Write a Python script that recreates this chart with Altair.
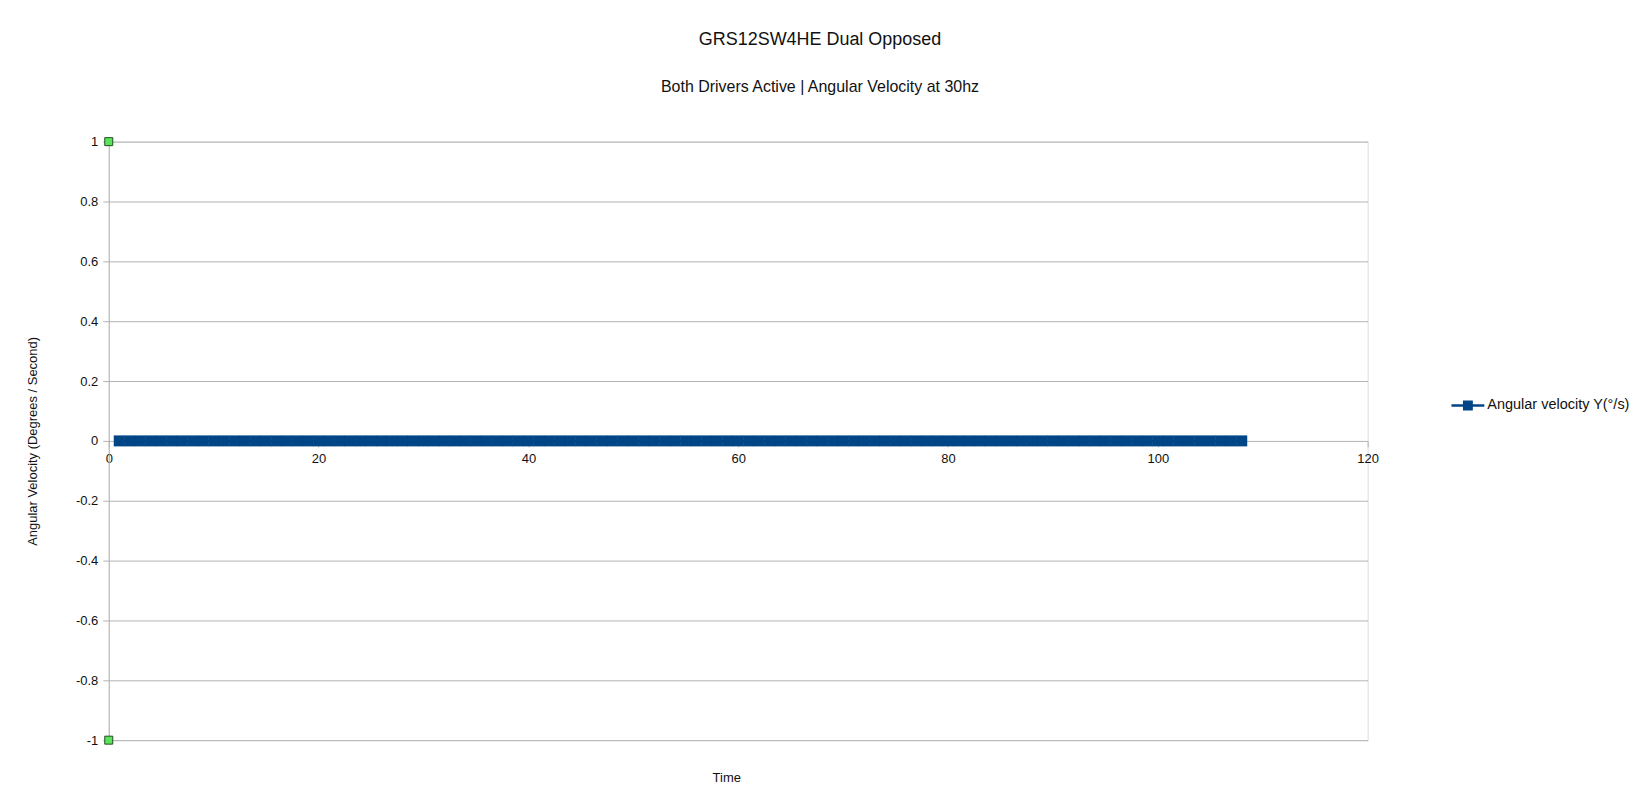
import altair as alt
import pandas as pd

# Time (s) of each plotted sample (read as one dense run from ~1 s to ~108 s)
time_s = [
    1, 2, 3, 4, 5, 6, 7, 8, 9, 10, 11, 12, 13, 14, 15, 16, 17, 18,
    19, 20, 21, 22, 23, 24, 25, 26, 27, 28, 29, 30, 31, 32, 33, 34, 35, 36,
    37, 38, 39, 40, 41, 42, 43, 44, 45, 46, 47, 48, 49, 50, 51, 52, 53, 54,
    55, 56, 57, 58, 59, 60, 61, 62, 63, 64, 65, 66, 67, 68, 69, 70, 71, 72,
    73, 74, 75, 76, 77, 78, 79, 80, 81, 82, 83, 84, 85, 86, 87, 88, 89, 90,
    91, 92, 93, 94, 95, 96, 97, 98, 99, 100, 101, 102, 103, 104, 105, 106, 107, 108,
]
# Angular velocity Y (deg/s): every reading is zero
ang_vel = [
    0, 0, 0, 0, 0, 0, 0, 0, 0, 0, 0, 0, 0, 0, 0, 0, 0, 0,
    0, 0, 0, 0, 0, 0, 0, 0, 0, 0, 0, 0, 0, 0, 0, 0, 0, 0,
    0, 0, 0, 0, 0, 0, 0, 0, 0, 0, 0, 0, 0, 0, 0, 0, 0, 0,
    0, 0, 0, 0, 0, 0, 0, 0, 0, 0, 0, 0, 0, 0, 0, 0, 0, 0,
    0, 0, 0, 0, 0, 0, 0, 0, 0, 0, 0, 0, 0, 0, 0, 0, 0, 0,
    0, 0, 0, 0, 0, 0, 0, 0, 0, 0, 0, 0, 0, 0, 0, 0, 0, 0,
]
series_name = "Angular velocity Y(°/s)"

# green reference markers at the axis ends
ref_time = [0, 0]
ref_val = [1, -1]

x_ticks = [0, 20, 40, 60, 80, 100, 120]
y_ticks = [-1, -0.8, -0.6, -0.4, -0.2, 0, 0.2, 0.4, 0.6, 0.8, 1]

FONT = "Liberation Sans"
GRID = "#b3b3b3"
BLUE = "#004586"
TXT = "#111"

df = pd.DataFrame({"time": time_s, "vel": ang_vel, "series": [series_name] * len(time_s)})
ref = pd.DataFrame({"time": ref_time, "vel": ref_val})

W, H = 1262, 600

x_enc = alt.X(
    "time:Q",
    scale=alt.Scale(domain=[0, 120], nice=False, zero=False),
    axis=alt.Axis(
        values=x_ticks, offset=-H / 2, grid=False, domain=False,
        ticks=True, tickSize=6, tickColor=GRID, labelPadding=6,
        labelFlush=False, labelOverlap=False,
        labelFont=FONT, labelFontSize=13, labelColor=TXT,
        title="Time", titleFont=FONT, titleFontSize=13, titleFontWeight="normal",
        titleColor=TXT, titleX=619, titleY=337, titleBaseline="middle",
        titleAnchor="start", titleAlign="center",
    ),
)
y_enc = alt.Y(
    "vel:Q",
    scale=alt.Scale(domain=[-1, 1], nice=False),
    axis=alt.Axis(
        values=y_ticks, grid=True, gridColor=GRID, domain=True, domainColor=GRID,
        ticks=True, tickSize=6, tickColor=GRID, labelPadding=5,
        labelExpr="'' + datum.value",
        labelFont=FONT, labelFontSize=13, labelColor=TXT,
        title="Angular Velocity (Degrees / Second)", titleFont=FONT,
        titleFontSize=13, titleFontWeight="normal", titleColor=TXT,
        titleX=-76, titleY=H / 2, titleBaseline="middle", titleAngle=-90,
        titleAlign="center",
    ),
)

line = alt.Chart(df).mark_line(color=BLUE, strokeWidth=2).encode(x=x_enc, y=y_enc)

legend_symbol = "M-1,-0.08H1V0.08H-1Z M-0.3,-0.3H0.3V0.3H-0.3Z"
pts = alt.Chart(df).mark_point(shape="square", filled=True, size=121, opacity=1).encode(
    x="time:Q",
    y="vel:Q",
    color=alt.Color(
        "series:N",
        scale=alt.Scale(domain=[series_name], range=[BLUE]),
        legend=alt.Legend(
            title=None, orient="none", legendX=1346, legendY=248,
            symbolType=legend_symbol, symbolSize=1089, symbolStrokeWidth=0,
            labelFont=FONT, labelFontSize=14.5, labelColor=TXT, labelOffset=3,
            padding=0,
        ),
    ),
)

markers = alt.Chart(ref).mark_point(
    shape="square", filled=True, size=64, opacity=1, fill="#5be35b",
    stroke="#1f4f1f", strokeWidth=1,
).encode(x="time:Q", y="vel:Q")

chart = (
    alt.layer(line, pts, markers)
    .properties(
        width=W, height=H,
        autosize=alt.AutoSizeParams(type="none"),
        padding={"left": 101, "top": 133, "right": 262, "bottom": 50},
        title=alt.Title(
            "GRS12SW4HE Dual Opposed",
            subtitle="Both Drivers Active | Angular Velocity at 30hz",
            font=FONT, fontSize=18, fontWeight="normal", color=TXT,
            subtitleFont=FONT, subtitleFontSize=16, subtitleColor=TXT,
            anchor="middle", dx=82, offset=41, subtitlePadding=30,
        ),
    )
    .configure_view(stroke=GRID, strokeWidth=1)
    .configure(background="white")
)

chart.save("out.html", embed_options={"renderer": "svg", "actions": False})
